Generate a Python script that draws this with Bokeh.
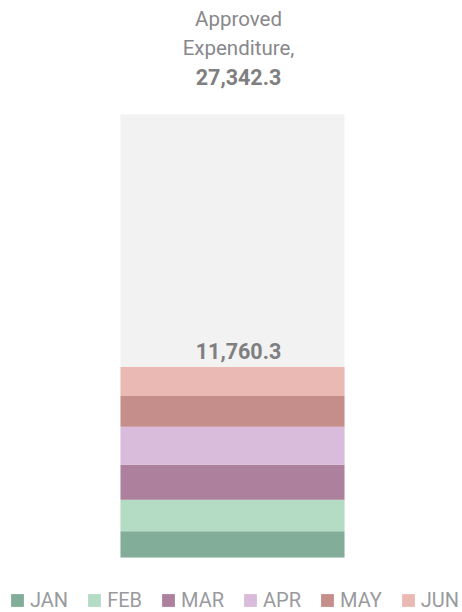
from bokeh.plotting import figure
from bokeh.models import ColumnDataSource, Range1d, Legend, LegendItem
from bokeh.core.properties import value
from bokeh.embed import file_html
from bokeh.resources import INLINE

# ---- data ----
months = ["JAN", "FEB", "MAR", "APR", "MAY", "JUN"]
monthly_values = [1620.0, 1950.0, 2155.0, 2340.0, 1910.0, 1785.3]
approved_total = 27342.3
title_lines = ["Approved", "Expenditure,"]
colors = ["#82ad98", "#b4dbc4", "#ad809d", "#d9bbdc", "#c58e8a", "#ebb9b3"]

spent_total = sum(monthly_values)

FONT = "Roboto"

# ---- layout (pixels) ----
W, H = 462, 612
bar_bottom_px = 557      # from top of figure
bar_top_px = 114         # top of approved bar
scale = (bar_bottom_px - bar_top_px) / approved_total   # px per unit
y_start = -(H - bar_bottom_px) / scale
y_end = y_start + H / scale
TEXT_SHIFT = 9           # renderer draws alphabetic baseline this much lower

def y_at(px_from_top):
    return y_start + (H - (px_from_top - TEXT_SHIFT)) / scale

bar_x = 232
bar_w = 224
text_x = 238

p = figure(width=W, height=H, output_backend="svg", toolbar_location=None,
           x_range=Range1d(0, W), y_range=Range1d(y_start, y_end),
           min_border=0, outline_line_color=None, background_fill_color="white",
           border_fill_color="white")
p.axis.visible = False
p.grid.visible = False

# approved (background) bar
p.vbar(x=[bar_x], top=[approved_total], bottom=[0], width=bar_w,
       fill_color="#f2f2f2", line_color=None)

data = {"x": [bar_x]}
for m, v in zip(months, monthly_values):
    data[m] = [v]
src = ColumnDataSource(data)
renderers = p.vbar_stack(months, x="x", width=bar_w, color=colors,
                         line_color=None, source=src)

# total spent label (baseline ~7px above the stack)
top_px = bar_bottom_px - spent_total * scale
p.text(x=[text_x], y=[y_at(top_px - 7)],
       text=[f"{spent_total:,.1f}"], text_align="center",
       text_baseline="alphabetic", text_font=value(FONT),
       text_font_style="bold", text_font_size="21.5px", text_color="#7f7f82")

# approved title
title_baselines = [27, 56]
for line, bpx in zip(title_lines, title_baselines):
    p.text(x=[text_x], y=[y_at(bpx)], text=[line], text_align="center",
           text_baseline="alphabetic", text_font=value(FONT),
           text_font_size="20.5px", text_color="#88888c")
p.text(x=[text_x], y=[y_at(85)], text=[f"{approved_total:,.1f}"],
       text_align="center", text_baseline="alphabetic",
       text_font=value(FONT), text_font_style="bold",
       text_font_size="21.5px", text_color="#7f7f82")

legend = Legend(items=[LegendItem(label=m, renderers=[r]) for m, r in zip(months, renderers)],
                orientation="horizontal", location=(9, 0),
                glyph_width=16, glyph_height=16, label_standoff=5, spacing=18,
                padding=0, margin=0, border_line_alpha=0, background_fill_alpha=0,
                label_text_font=FONT, label_text_font_size="20px",
                label_text_color="#9a9a9e", label_height=24)
p.add_layout(legend, "center")

open("out.html", "w").write(file_html(p, INLINE))
